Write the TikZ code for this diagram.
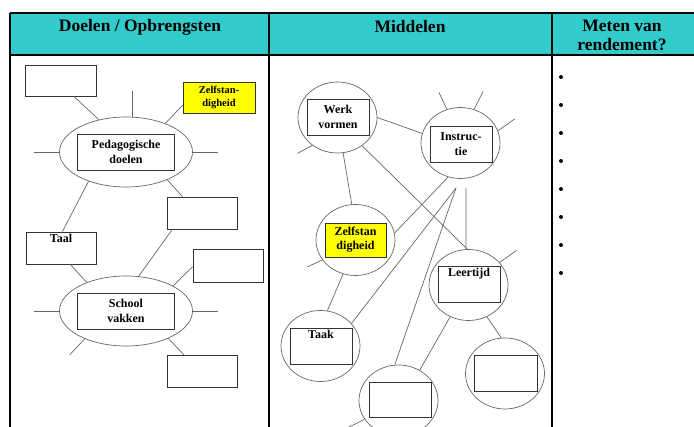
\documentclass[tikz,border=0pt]{standalone}
\usepackage{fontspec}
\setmainfont{Liberation Serif}
\usetikzlibrary{shapes.geometric}

\definecolor{kopblauw}{RGB}{51,204,204}
\definecolor{geel}{RGB}{255,255,0}

\tikzset{
  kader/.style={draw=black!80, line width=0.9pt, fill=white, align=center,
                inner sep=1pt, font=\bfseries\fontsize{12}{14.5}\selectfont},
  geelkader/.style={kader, fill=geel, font=\bfseries\fontsize{10.5}{13}\selectfont},
  ring/.style={ellipse, draw=black!60, line width=0.7pt, inner sep=0pt},
  bol/.style={ring, minimum width=79pt, minimum height=71pt},
  spaak/.style={draw=black!60, line width=0.7pt},
  tabel/.style={draw=black, line width=1.2pt},
  kop/.style={align=center, font=\bfseries\fontsize{17.5}{19}\selectfont},
  toplabel/.style={anchor=north, inner sep=2.5pt, font=\bfseries\fontsize{12}{14}\selectfont},
  punt/.style={circle, fill=black, inner sep=0pt, minimum size=4pt},
}

\begin{document}
\begin{tikzpicture}[x=1pt, y=-1pt]
  \useasboundingbox (0,0) rectangle (694,427);
  \clip (0,0) rectangle (694,427);

  % Table
  \fill[kopblauw] (10,13) rectangle (694,55);
  \draw[tabel] (10,13) -- (694,13);
  \draw[tabel] (10,55) -- (694,55);
  \draw[tabel] (10,13) -- (10,427);
  \draw[tabel] (269,13) -- (269,427);
  \draw[tabel] (552,13) -- (552,427);
  \node[kop] (kop1) at (140,27) {Doelen / Opbrengsten};
  \node[kop] (kop2) at (410,27) {Middelen};
  \node[kop] (kop3) at (622,35) {Meten van\\rendement?};

  % Doelen / Opbrengsten
  \node[kader, minimum width=71pt, minimum height=31pt] (leeg1) at (60.5,80.5) {};
  \node[geelkader, minimum width=72pt, minimum height=31pt] (zelfa) at (219,97.5) {Zelfstan-\\digheid};
  \node[ring, minimum width=133pt, minimum height=70pt] (ped) at (126,152) {};
  \node[kader, minimum width=97pt, minimum height=36pt] (pedbox) at (126,152) {Pedagogische\\doelen};
  \node[kader, minimum width=70pt, minimum height=32pt] (leeg2) at (202,213) {};
  \node[kader, minimum width=70pt, minimum height=32pt,
        label={[toplabel]north:Taal}] (taal) at (61,248) {};
  \node[kader, minimum width=70pt, minimum height=33pt] (leeg3) at (228,265.5) {};
  \node[ring, minimum width=133pt, minimum height=70pt] (school) at (126,311) {};
  \node[kader, minimum width=97pt, minimum height=36pt] (schoolbox) at (126,311) {School\\vakken};
  \node[kader, minimum width=70pt, minimum height=32pt] (leeg4) at (202,371) {};

  \draw[spaak] (ped.80) -- ++(0,-26);
  \draw[spaak] (ped.west) -- ++(-25,0);
  \draw[spaak] (ped.east) -- ++(25,0);
  \draw[spaak] (ped.130) -- (leeg1.-50);
  \draw[spaak] (ped.36) -- (zelfa.192);
  \draw[spaak] (ped.-34) -- (leeg2.140);
  \draw[spaak] (ped.218) -- (taal.85);
  \draw[spaak] (school.70) -- (leeg2.209);
  \draw[spaak] (taal.-60) -- (school.144);
  \draw[spaak] (school.28) -- (leeg3.182);
  \draw[spaak] (school.west) -- ++(-25,0);
  \draw[spaak] (school.east) -- ++(25,0);
  \draw[spaak] (school.214) -- ++(-15,16);
  \draw[spaak] (school.-33) -- (leeg4.138);

  % Middelen
  \node[bol] (werk) at (337.5,117.5) {};
  \node[kader, minimum width=62pt, minimum height=36pt] (werkbox) at (338,117) {Werk\\vormen};
  \node[bol] (instr) at (460.5,143) {};
  \node[kader, minimum width=62pt, minimum height=36pt] (instrbox) at (461,144) {Instruc-\\tie};
  \node[bol] (zelfb) at (355.5,240) {};
  \node[geelkader, minimum width=61pt, minimum height=34pt,
        font=\bfseries\fontsize{12}{14}\selectfont] (zelfbox) at (355.5,240) {Zelfstan\\digheid};
  \node[bol] (leer) at (468.5,285) {};
  \node[kader, minimum width=62pt, minimum height=36pt,
        label={[toplabel]north:Leertijd}] (leerbox) at (469,284) {};
  \node[bol] (taak) at (320.5,346) {};
  \node[kader, minimum width=62pt, minimum height=36pt,
        label={[toplabel]north:Taak}] (taakbox) at (321,346) {};
  \node[bol] (rechts) at (505,373.5) {};
  \node[kader, minimum width=63pt, minimum height=36pt] (rechtsbox) at (505.5,373) {};
  \node[bol] (onder) at (398.5,400.5) {};
  \node[kader, minimum width=62pt, minimum height=35pt] (onderbox) at (400,400) {};
  \coordinate (knoop) at (456,188);
  \coordinate (knoop2) at (466,188);

  \draw[spaak] (werk.228) -- ++(-15,8);
  \draw[spaak] (werk.east) -- (instr.166);
  \draw[spaak] (werk.-81) -- (zelfb.96);
  \draw[spaak] (werk.-49) -- (leer.92);
  \draw[spaak] (instr.112) -- ++(-8,-17);
  \draw[spaak] (instr.68) -- ++(9,-18);
  \draw[spaak] (instr.18) -- ++(17,-12);
  \draw[spaak] (instr.-110) -- (zelfb.10);
  \draw[spaak] (knoop) -- (taak.36);
  \draw[spaak] (knoop) -- (onder.96);
  \draw[spaak] (knoop2) -- (leer.94);
  \draw[spaak] (leer.36) -- ++(17,-12);
  \draw[spaak] (leer.-60) -- (rechts.96);
  \draw[spaak] (leer.-120) -- (onder.55);
  \draw[spaak] (zelfb.211) -- ++(-15,7);
  \draw[spaak] (zelfb.-110) -- (taak.79);
  \draw[spaak] (onder.209) -- ++(-20,10);

  % Meten van rendement
  \foreach \i in {0,...,7}
    \node[punt] (punt\i) at (561,77+28*\i) {};
\end{tikzpicture}
\end{document}
